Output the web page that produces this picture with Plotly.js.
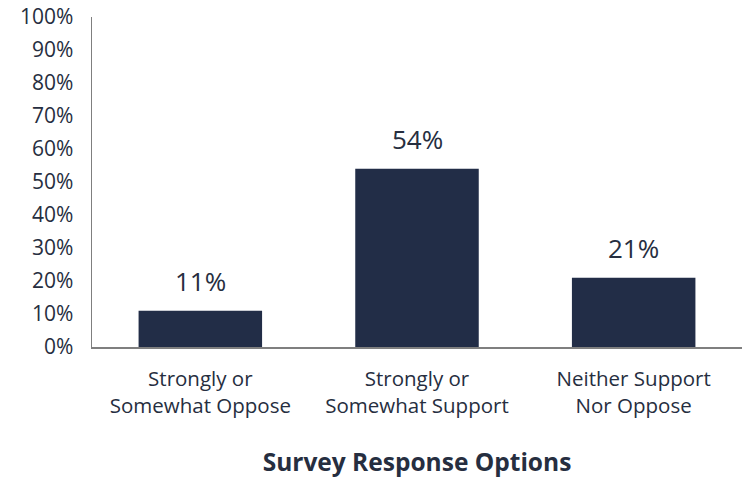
<!DOCTYPE html>
<html>
<head>
<meta charset="utf-8">
<script src="https://cdn.plot.ly/plotly-3.0.1.min.js"></script>
<style>html,body{margin:0;padding:0;background:#fff;}#chart{width:747px;height:478px;}</style>
</head>
<body>
<div id="chart"></div>
<script>
const categories = ["Strongly or<br>Somewhat Oppose", "Strongly or<br>Somewhat Support", "Neither Support<br>Nor Oppose"];
const values = [11, 54, 21];
const valueLabels = ["11%", "54%", "21%"];
const yTickVals = [0,10,20,30,40,50,60,70,80,90,100];
const yTickText = ["0%","10%","20%","30%","40%","50%","60%","70%","80%","90%","100%"];
const xTitle = "Survey Response Options";

const barColor = "#222d47";
const textColor = "#262e40";
const fontFam = "'Open Sans', Lato, sans-serif";

const trace = {
  type: "bar",
  x: categories,
  y: values,
  marker: {color: barColor},
  hoverinfo: "none"
};

const annotations = categories.map((c, i) => ({
  x: c, y: values[i], xref: "x", yref: "y",
  text: valueLabels[i], showarrow: false,
  yanchor: "bottom", yshift: 10,
  font: {family: fontFam, size: 26, color: textColor}
}));

const layout = {
  width: 747, height: 478,
  margin: {l: 92, r: 5, t: 17, b: 131},
  paper_bgcolor: "#fff", plot_bgcolor: "#fff",
  bargap: 0.43,
  showlegend: false,
  font: {family: fontFam, color: textColor},
  xaxis: {
    type: "category",
    showline: true, linecolor: "#7f7f7f", linewidth: 1.5,
    ticks: "", showgrid: false, zeroline: false,
    tickfont: {family: fontFam, size: 20.5, color: textColor},
    ticklabelstandoff: 13,
    title: {text: "<b>" + xTitle + "</b>", font: {family: fontFam, size: 24.5, color: textColor}, standoff: 37}
  },
  yaxis: {
    range: [0, 100],
    tickvals: yTickVals, ticktext: yTickText,
    showline: true, linecolor: "#7f7f7f", linewidth: 1.5,
    ticks: "", showgrid: false, zeroline: false,
    tickfont: {family: fontFam, size: 21, color: textColor},
    ticklabelstandoff: 13
  },
  annotations: annotations
};

Plotly.newPlot("chart", [trace], layout, {displayModeBar: false, staticPlot: true});
</script>
</body>
</html>
